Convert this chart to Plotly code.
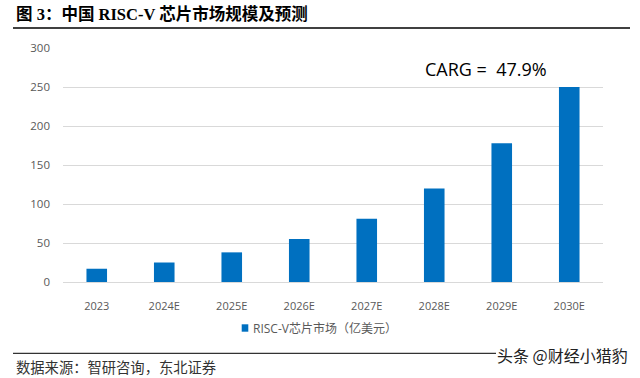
import plotly.graph_objects as go

categories = ["2023", "2024E", "2025E", "2026E", "2027E", "2028E", "2029E", "2030E"]
market = [17, 25, 38, 55, 81, 120, 178, 250]
series_name = "RISC-V芯片市场（亿美元）"
y_ticks = [0, 50, 100, 150, 200, 250, 300]
title_text = "图 3：中国 RISC-V 芯片市场规模及预测"
source_text = "数据来源：智研咨询，东北证券"
cagr_text = "CARG =  47.9%"
watermark = "头条 @财经小猎豹"

W, H = 640, 378
L, R, T, B = 63, 37, 48, 96
PW, PH = W - L - R, H - T - B


def px(x):
    return (x - L) / PW


def py(y):
    return (H - B - y) / PH


BLUE = "#0070C0"
GRAY = "#595959"

fig = go.Figure()
fig.add_trace(go.Bar(
    x=categories, y=market, name=series_name,
    marker=dict(color=BLUE, line=dict(width=0)),
    width=0.305, showlegend=False,
))

fig.update_layout(
    width=W, height=H,
    margin=dict(l=L, r=R, t=T, b=B, autoexpand=False),
    paper_bgcolor="white", plot_bgcolor="white",
    font=dict(family="Open Sans, Noto Sans CJK SC", color=GRAY, size=11),
    showlegend=False,
)
fig.update_xaxes(showgrid=False, showline=True, linecolor="#D9D9D9", linewidth=1,
                 ticks="", ticklabelstandoff=14, tickfont=dict(size=11, color=GRAY))
fig.update_yaxes(range=[0, 300], tickvals=y_ticks, showgrid=True, gridcolor="#D9D9D9",
                 gridwidth=1, zeroline=False, showline=False, ticks="",
                 ticklabelstandoff=12, tickfont=dict(size=11.5, color=GRAY))

# CAGR label
fig.add_annotation(x=px(486), y=py(69), xref="paper", yref="paper", text=cagr_text,
                   showarrow=False, font=dict(size=18, color="#000000", family="Open Sans"),
                   xanchor="center", yanchor="middle")

# legend (manual)
fig.add_shape(type="rect", xref="paper", yref="paper", x0=px(241.7), x1=px(248.3),
              y0=py(331.7), y1=py(324.3), fillcolor=BLUE, line=dict(width=0))
fig.add_annotation(x=px(251), y=py(328), xref="paper", yref="paper", text=series_name,
                   showarrow=False, xanchor="left", yanchor="middle",
                   font=dict(size=12, color=GRAY, family="Open Sans, Noto Sans CJK SC"))

# header & footer
fig.add_annotation(x=px(14), y=py(14), xref="paper", yref="paper", text="<b>" + title_text + "</b>",
                   showarrow=False, xanchor="left", yanchor="middle",
                   font=dict(size=16.5, color="#000000", family="Liberation Serif, Noto Sans CJK SC"))
fig.add_shape(type="line", xref="paper", yref="paper", x0=px(13), x1=px(630),
              y0=py(28), y1=py(28), line=dict(color="#000000", width=1.5))
fig.add_shape(type="line", xref="paper", yref="paper", x0=px(13), x1=px(496),
              y0=py(353.3), y1=py(353.3), line=dict(color="#333333", width=1.2))
fig.add_annotation(x=px(14), y=py(366), xref="paper", yref="paper", text=source_text,
                   showarrow=False, xanchor="left", yanchor="middle",
                   font=dict(size=14.3, color="#333333", family="Noto Sans CJK SC"))
fig.add_annotation(x=px(630), y=py(355), xref="paper", yref="paper", text=watermark,
                   showarrow=False, xanchor="right", yanchor="middle",
                   font=dict(size=16, color="#222222", family="Noto Sans CJK SC"))

fig.write_html("out.html", config={"displayModeBar": False},
               post_script="document.body.style.margin='0';document.body.style.overflow='hidden';")
